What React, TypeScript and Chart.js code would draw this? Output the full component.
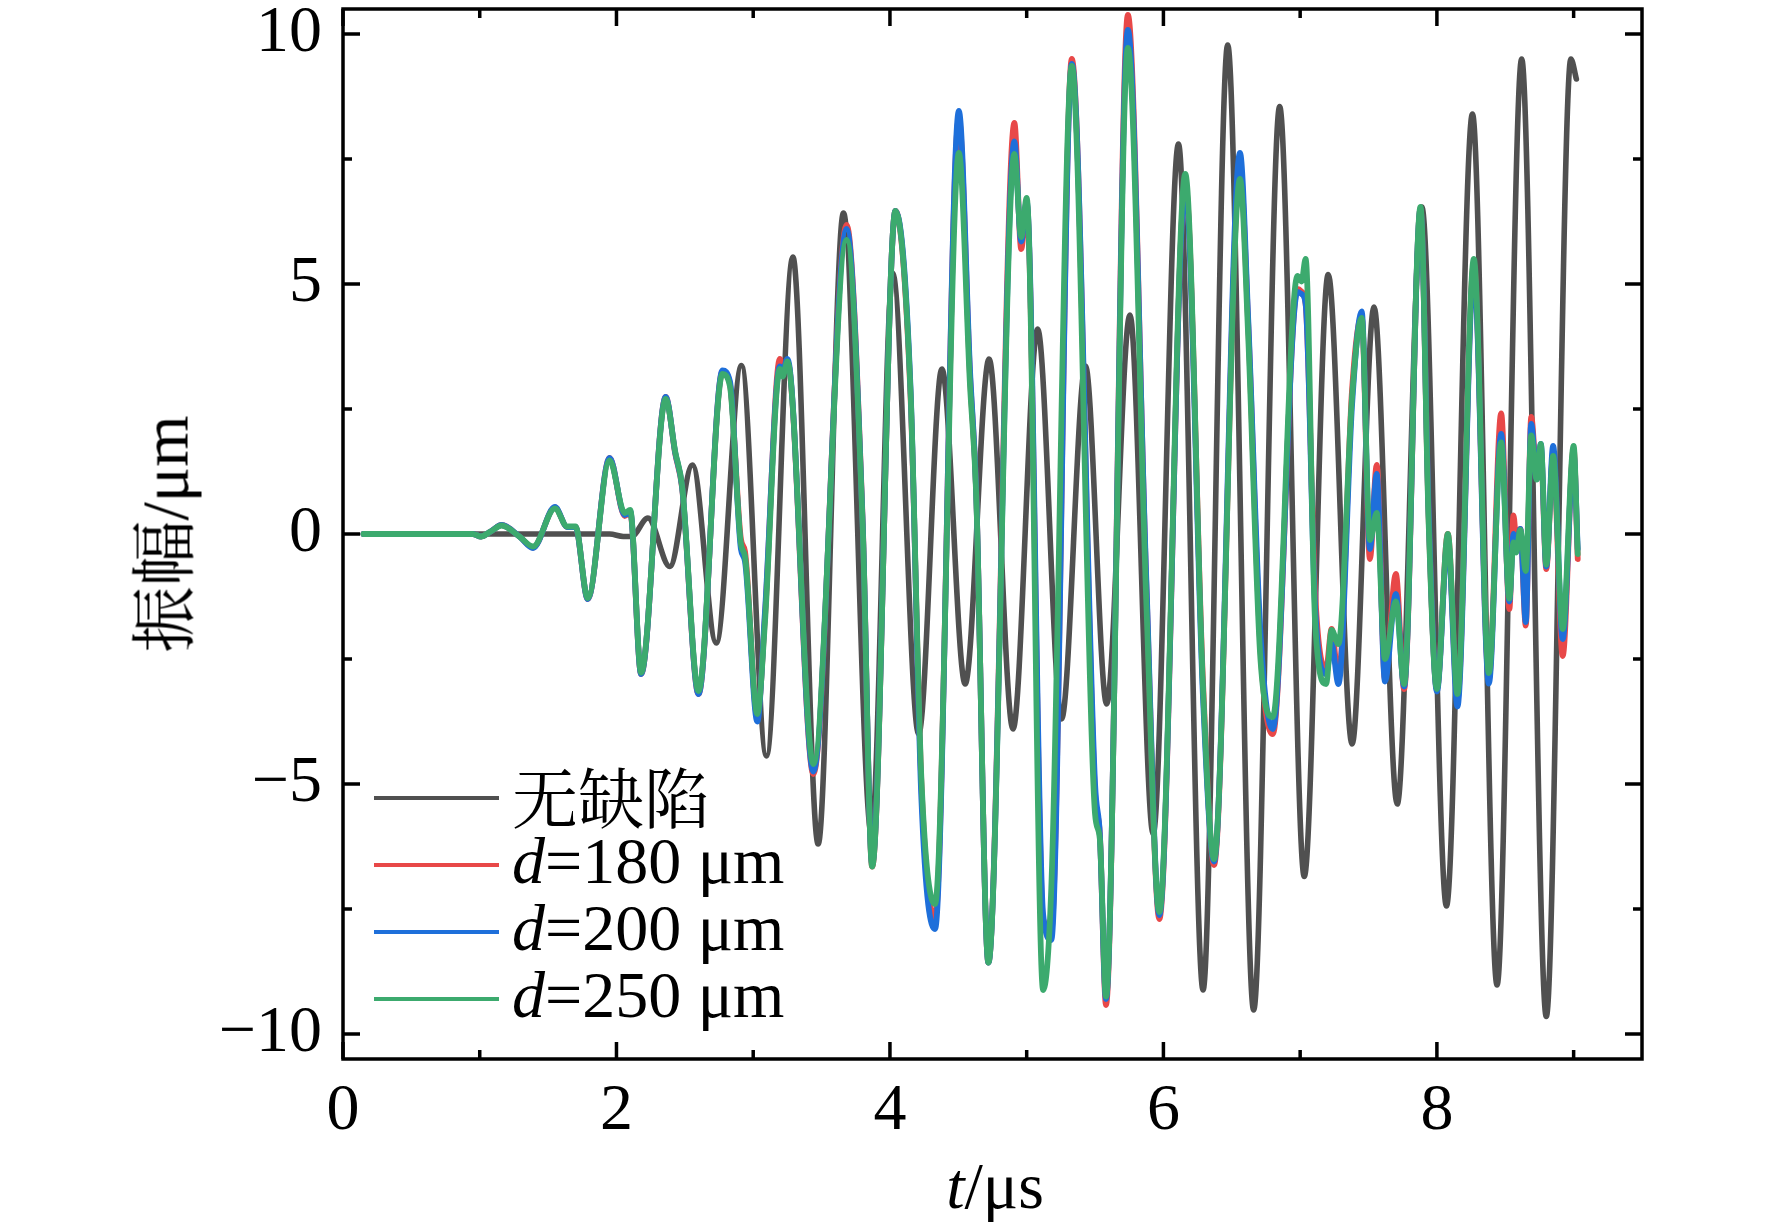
import React, { useEffect, useRef } from 'react';
import { Chart, registerables } from 'chart.js';

Chart.register(...registerables);

// ---------- data ----------
const tNoDefect = [
  0.15, 1.95, 2.05, 2.11, 2.23, 2.39, 2.556, 2.73, 2.914, 3.097,
  3.29, 3.475, 3.66, 3.865, 4.02, 4.21, 4.38, 4.55, 4.725, 4.9,
  5.08, 5.255, 5.43, 5.585, 5.755, 5.925, 6.11, 6.29, 6.47, 6.66,
  6.85, 7.03, 7.205, 7.38, 7.54, 7.71, 7.89, 8.07, 8.26, 8.44,
  8.62, 8.8, 8.98, 9.02,
];
const noDefect = [
  0, 0, -0.05, -0.05, 0.32, -0.65, 1.38, -2.18, 3.37, -4.44,
  5.54, -6.2, 6.42, -6.0, 5.22, -4.0, 3.3, -3.0, 3.5, -3.9,
  4.1, -3.7, 3.36, -3.4, 4.38, -6.0, 7.8, -9.12, 9.78, -9.52,
  8.55, -6.85, 5.19, -4.2, 4.54, -5.4, 6.54, -7.44, 8.4, -9.02,
  9.5, -9.65, 9.5, 9.1,
];

const tDefect = [
  0.15, 0.95, 1.01, 1.08, 1.16, 1.29, 1.39, 1.55, 1.64, 1.7,
  1.79, 1.95, 2.06, 2.1, 2.18, 2.36, 2.43, 2.48, 2.6, 2.775,
  2.83, 2.91, 2.94, 3.03, 3.085, 3.195, 3.215, 3.25, 3.44, 3.683,
  3.8, 3.87, 4.04, 4.15, 4.23, 4.33, 4.504, 4.585, 4.63, 4.72,
  4.91, 4.96, 5.0, 5.12, 5.18, 5.33, 5.5, 5.535, 5.58, 5.74,
  5.876, 5.97, 6.16, 6.29, 6.37, 6.56, 6.62, 6.71, 6.8, 6.98,
  7.01, 7.04, 7.11, 7.19, 7.23, 7.28, 7.38, 7.45, 7.51, 7.56,
  7.62, 7.7, 7.76, 7.88, 7.94, 8.0, 8.08, 8.15, 8.27, 8.38,
  8.47, 8.53, 8.56, 8.58, 8.61, 8.65, 8.69, 8.73, 8.76, 8.8,
  8.85, 8.92, 9.0, 9.03,
];
const d180 = [
  0, 0, -0.05, 0.05, 0.18, -0.05, -0.27, 0.53, 0.14, 0.14,
  -1.3, 1.52, 0.36, 0.44, -2.8, 2.74, 1.6, 0.92, -3.2, 3.25,
  3.0, -0.1, -0.35, -3.65, -1.7, 3.5, 3.3, 3.45, -4.8, 6.18,
  0.3, -6.65, 6.46, 2.8, -5.0, -7.7, 8.3, 3.2, 0.9, -8.57,
  8.22, 5.7, 6.6, -7.7, -7.9, 9.5, -5.2, -6.0, -9.42, 10.38,
  -1.1, -7.7, 7.0, -3.0, -6.62, 7.3, 4.2, -2.3, -4.0, 4.9,
  4.85, 4.6, -1.2, -2.7, -1.9, -2.9, 2.9, 4.35, -0.5, 1.38,
  -2.9, -0.8, -3.1, 6.5, 0.3, -3.1, 0.0, -3.3, 5.4, -2.9,
  2.41, -1.5, 0.37, -0.1, 0.1, -1.83, 2.34, 1.2, 1.7, -0.7,
  1.6, -2.44, 1.7, -0.5,
];
const d200 = [
  0, 0, -0.05, 0.05, 0.18, -0.05, -0.28, 0.54, 0.14, 0.14,
  -1.3, 1.52, 0.38, 0.46, -2.8, 2.74, 1.62, 0.94, -3.2, 3.27,
  3.05, -0.3, -0.55, -3.75, -1.6, 3.35, 3.25, 3.5, -4.75, 6.1,
  0.25, -6.6, 6.46, 2.95, -5.3, -7.9, 8.46, 3.3, 0.9, -8.57,
  7.85, 5.85, 6.65, -7.6, -8.12, 9.4, -5.0, -6.0, -9.3, 10.08,
  -1.0, -7.62, 6.95, -3.3, -6.55, 7.62, 4.3, -2.0, -3.9, 4.84,
  4.8, 4.6, -1.5, -2.8, -2.2, -3.0, 2.6, 4.45, -0.3, 1.2,
  -2.95, -1.2, -3.05, 6.5, 0.4, -3.15, -0.1, -3.45, 5.3, -2.99,
  2.0, -1.35, 0.0, -0.3, 0.1, -1.76, 2.2, 1.1, 1.8, -0.65,
  1.76, -2.1, 1.6, -0.3,
];
const d250 = [
  0, 0, -0.05, 0.05, 0.17, -0.05, -0.25, 0.51, 0.15, 0.15,
  -1.28, 1.47, 0.42, 0.48, -2.77, 2.7, 1.64, 0.96, -3.14, 3.2,
  2.95, -0.2, -0.45, -3.6, -1.8, 3.3, 3.15, 3.45, -4.6, 5.88,
  0.2, -6.65, 6.46, 2.88, -4.9, -7.4, 7.62, 3.0, 0.84, -8.57,
  7.6, 5.94, 6.72, -9.12, -7.08, 9.36, -5.6, -6.1, -9.25, 9.72,
  -1.44, -7.56, 7.2, -3.12, -6.5, 7.1, 3.96, -2.52, -3.66, 5.16,
  5.05, 5.5, -1.8, -3.0, -1.92, -2.2, 2.76, 4.32, -0.12, 0.42,
  -2.5, -1.35, -3.0, 6.54, 0.2, -3.1, 0.0, -3.2, 5.5, -2.78,
  1.83, -1.29, -0.17, -0.37, 0.08, -0.74, 1.97, 1.09, 1.8, -0.61,
  1.56, -1.9, 1.76, -0.4,
];

const xMajorTicks = [0, 2, 4, 6, 8];
const xMinorTicks = [1, 3, 5, 7, 9];
const yMajorTicks = [-10, -5, 0, 5, 10];
const yMinorTicks = [-7.5, -2.5, 2.5, 7.5];

const seriesNames = ['无缺陷', '180', '200', '250'];
const seriesColors = ['#505050', '#E84848', '#1E6FDA', '#3CAA6E'];

// ---------- layout / style ----------
const W = 1772;
const H = 1225;
const SERIF = '"Liberation Serif", "Times New Roman", "Noto Serif CJK SC", "Noto Sans CJK SC", serif';
const FONT_SIZE = 66;

const toPoints = (xs: number[], ys: number[]) => xs.map((x, i) => ({ x, y: ys[i] }));

const framePlugin = {
  id: 'frameTicks',
  afterDatasetsDraw(chart: any) {
    const { ctx, chartArea, scales } = chart;
    const { left, right, top, bottom } = chartArea;
    const xs = scales.x;
    const ys = scales.y;
    ctx.save();
    ctx.strokeStyle = '#000';
    ctx.lineWidth = 3.5;
    ctx.lineCap = 'butt';
    const majorLen = 17;
    const minorLen = 9;
    const drawX = (v: number, len: number) => {
      const p = xs.getPixelForValue(v);
      ctx.beginPath();
      ctx.moveTo(p, bottom);
      ctx.lineTo(p, bottom - len);
      ctx.moveTo(p, top);
      ctx.lineTo(p, top + len);
      ctx.stroke();
    };
    const drawY = (v: number, len: number) => {
      const p = ys.getPixelForValue(v);
      ctx.beginPath();
      ctx.moveTo(left, p);
      ctx.lineTo(left + len, p);
      ctx.moveTo(right, p);
      ctx.lineTo(right - len, p);
      ctx.stroke();
    };
    xMajorTicks.forEach((v) => drawX(v, majorLen));
    xMinorTicks.forEach((v) => drawX(v, minorLen));
    yMajorTicks.forEach((v) => drawY(v, majorLen));
    yMinorTicks.forEach((v) => drawY(v, minorLen));
    ctx.strokeRect(left, top, right - left, bottom - top);
    ctx.restore();
  },
};

export default function App() {
  const canvasRef = useRef<HTMLCanvasElement | null>(null);

  useEffect(() => {
    const canvas = canvasRef.current;
    if (!canvas) return;
    const lineDs = (label: string, xs: number[], ys: number[], color: string, width: number, order: number) => ({
      label,
      data: toPoints(xs, ys),
      borderColor: color,
      backgroundColor: color,
      borderWidth: width,
      pointRadius: 0,
      pointHoverRadius: 0,
      fill: false,
      cubicInterpolationMode: 'monotone' as const,
      borderJoinStyle: 'round' as const,
      borderCapStyle: 'round' as const,
      order,
    });
    const chart = new Chart(canvas, {
      type: 'line',
      data: {
        datasets: [
          lineDs(seriesNames[0], tNoDefect, noDefect, seriesColors[0], 5.6, 4),
          lineDs(seriesNames[1], tDefect, d180, seriesColors[1], 5.8, 3),
          lineDs(seriesNames[2], tDefect, d200, seriesColors[2], 5.8, 2),
          lineDs(seriesNames[3], tDefect, d250, seriesColors[3], 5.8, 1),
        ],
      },
      options: {
        responsive: false,
        animation: false,
        devicePixelRatio: 1,
        events: [],
        layout: { padding: { left: 0, right: 130, top: 9, bottom: 0 } },
        plugins: {
          legend: { display: false },
          tooltip: { enabled: false },
        },
        scales: {
          x: {
            type: 'linear',
            min: 0,
            max: 9.5,
            grid: { display: false, drawTicks: false },
            border: { display: false },
            afterBuildTicks: (s: any) => {
              s.ticks = xMajorTicks.map((v) => ({ value: v }));
            },
            afterFit: (s: any) => {
              s.height = 166;
              s.paddingLeft = 0;
              s.paddingRight = 0;
            },
            ticks: {
              autoSkip: false,
              maxRotation: 0,
              padding: 13,
              color: '#000',
              font: { family: SERIF, size: FONT_SIZE },
              callback: (v: any) => String(v),
            },
          },
          y: {
            type: 'linear',
            min: -10.5,
            max: 10.5,
            grid: { display: false, drawTicks: false },
            border: { display: false },
            afterBuildTicks: (s: any) => {
              s.ticks = yMajorTicks.map((v) => ({ value: v }));
            },
            afterFit: (s: any) => {
              s.width = 343;
              s.paddingTop = 0;
              s.paddingBottom = 0;
            },
            ticks: {
              autoSkip: false,
              padding: 21,
              color: '#000',
              font: { family: SERIF, size: FONT_SIZE },
              callback: (v: any) => (Number(v) < 0 ? '\u2212' + Math.abs(Number(v)) : String(v)),
            },
          },
        },
      },
      plugins: [framePlugin],
    });
    return () => chart.destroy();
  }, []);

  const legendRows = [798, 865, 932, 999];
  const textStyle: React.CSSProperties = {
    position: 'absolute',
    fontFamily: SERIF,
    fontSize: FONT_SIZE,
    color: '#000',
    whiteSpace: 'nowrap',
    lineHeight: 'normal',
  };

  return (
    <div style={{ position: 'absolute', left: 0, top: 0, width: W, height: H, background: '#fff', overflow: 'hidden' }}>
      <canvas ref={canvasRef} width={W} height={H} style={{ position: 'absolute', left: 0, top: 0, width: W, height: H }} />
      {/* y-axis title */}
      <div
        style={{
          ...textStyle,
          left: 159,
          top: 534,
          transform: 'translate(-50%, -50%) rotate(-90deg)',
        }}
      >
        振幅/μm
      </div>
      {/* x-axis title */}
      <div style={{ ...textStyle, left: 995, top: 1186, transform: 'translate(-50%, -50%)' }}>
        <i>t</i>/μs
      </div>
      {/* legend */}
      {seriesNames.map((name, i) => (
        <React.Fragment key={name}>
          <div
            style={{
              position: 'absolute',
              left: 374,
              top: legendRows[i] - 2,
              width: 125,
              height: 4,
              background: seriesColors[i],
            }}
          />
          <div style={{ ...textStyle, left: 512, top: legendRows[i] - 4, transform: 'translateY(-50%)' }}>
            {i === 0 ? (
              name
            ) : (
              <>
                <i>d</i>={name} μm
              </>
            )}
          </div>
        </React.Fragment>
      ))}
    </div>
  );
}
